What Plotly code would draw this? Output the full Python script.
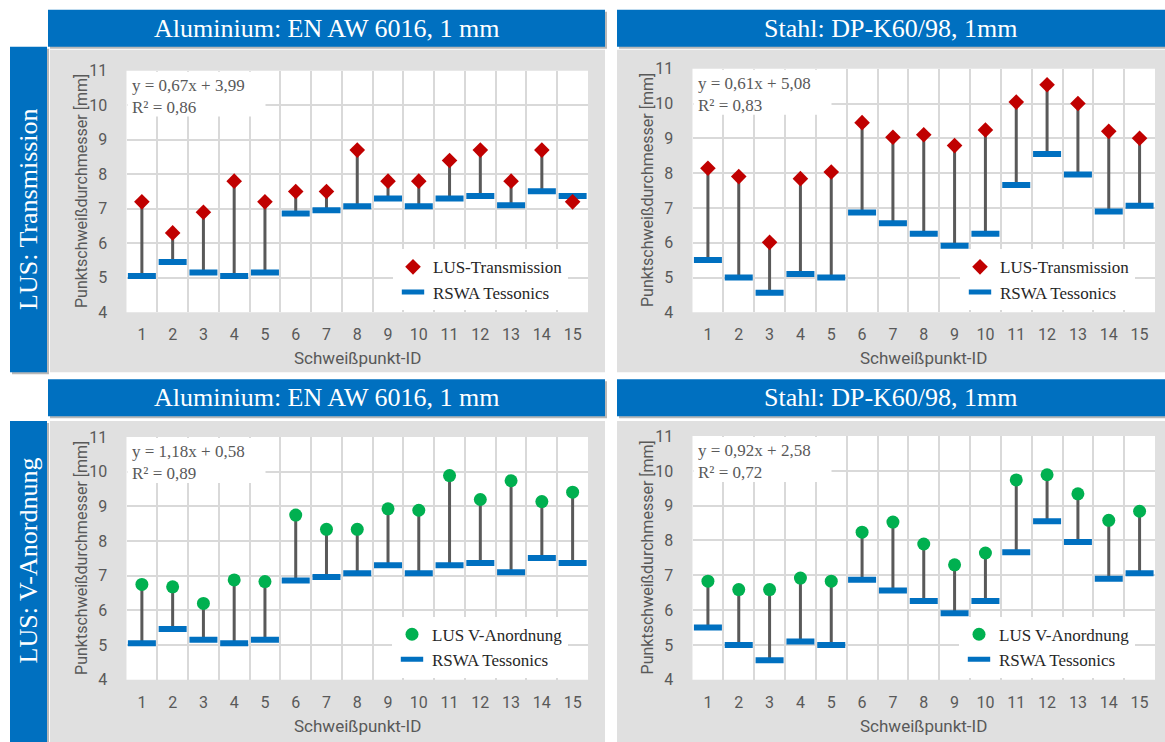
import plotly.graph_objects as go

W, H = 1165, 742

# ---------------- data ----------------
ids = [str(i) for i in range(1, 16)]

rswa_al = [5.05, 5.46, 5.15, 5.05, 5.15, 6.86, 6.96, 7.07, 7.30, 7.07, 7.30, 7.37, 7.10, 7.51, 7.37]
rswa_st = [5.50, 5.00, 4.56, 5.10, 5.00, 6.87, 6.56, 6.26, 5.91, 6.26, 7.66, 8.55, 7.96, 6.90, 7.06]

lus_trans_al = [7.20, 6.30, 6.90, 7.80, 7.20, 7.50, 7.50, 8.70, 7.80, 7.80, 8.40, 8.70, 7.80, 8.70, 7.20]
lus_trans_st = [8.14, 7.90, 6.01, 7.84, 8.03, 9.45, 9.03, 9.10, 8.79, 9.24, 10.04, 10.54, 10.00, 9.20, 9.00]
lus_v_al = [6.75, 6.68, 6.20, 6.88, 6.83, 8.75, 8.34, 8.34, 8.93, 8.89, 9.89, 9.20, 9.74, 9.14, 9.41]
lus_v_st = [6.83, 6.59, 6.59, 6.92, 6.83, 8.24, 8.53, 7.90, 7.30, 7.64, 9.74, 9.89, 9.34, 8.58, 8.84]

header_al = "Aluminium: EN AW 6016, 1 mm"
header_st = "Stahl: DP-K60/98, 1mm"
row_labels = ["LUS: Transmission", "LUS: V-Anordnung"]
eq_texts = [
    "y = 0,67x + 3,99<br>R² = 0,86",
    "y = 0,61x + 5,08<br>R² = 0,83",
    "y = 1,18x + 0,58<br>R² = 0,89",
    "y = 0,92x + 2,58<br>R² = 0,72",
]
name_trans = "LUS-Transmission"
name_v = "LUS V-Anordnung"
name_rswa = "RSWA Tessonics"
y_title = "Punktschweißdurchmesser [mm]"
x_title = "Schweißpunkt-ID"

# ---------------- styling ----------------
BLUE = "#0070C0"
RED = "#C00000"
GREEN = "#00B050"
STEM = "#595959"
PANEL = "#E0E0E0"
GRID = "#D9D9D9"
TXT = "#595959"
SANS = "Roboto, Arial, sans-serif"
SERIF = "Liberation Serif, Times New Roman, serif"

# vertical calibration of the rendered picture (observed: picture_y = OY + SY * page_y)
OY, SY = 9.2, 0.976


def px(x):
    return x / W


def py(y):
    return 1 - ((y - OY) / SY) / H


panels = [
    dict(x0=126.5, x1=588, yt=71, yb=313, lus=lus_trans_al, rswa=rswa_al, sym="diamond", col=RED, size=12, name=name_trans),
    dict(x0=692.5, x1=1155, yt=69, yb=313, lus=lus_trans_st, rswa=rswa_st, sym="diamond", col=RED, size=12, name=name_trans),
    dict(x0=126.5, x1=588, yt=438, yb=681, lus=lus_v_al, rswa=rswa_al, sym="circle", col=GREEN, size=13, name=name_v),
    dict(x0=692.5, x1=1155, yt=437, yb=681, lus=lus_v_st, rswa=rswa_st, sym="circle", col=GREEN, size=13, name=name_v),
]

fig = go.Figure()
shapes = []
annotations = []
layout_axes = {}


def rect(x0, x1, y0, y1, color, layer="below"):
    return dict(type="rect", xref="paper", yref="paper", x0=px(x0), x1=px(x1), y0=py(y1), y1=py(y0),
                fillcolor=color, line=dict(width=0), layer=layer)


for x0, x1, y0, y1 in [(50, 605, 50, 373), (617, 1165, 50, 373), (50, 605, 422, 760), (617, 1165, 422, 760)]:
    shapes.append(rect(x0, x1, y0, y1, PANEL))
for p in panels:
    shapes.append(rect(p["x0"], p["x1"], p["yt"], p["yb"], "white"))

blue_boxes = [
    (48, 605, 10, 47, header_al, 0),
    (617, 1165, 10, 47, header_st, 0),
    (48, 605, 380, 417, header_al, 0),
    (617, 1165, 380, 417, header_st, 0),
    (10, 47, 47, 373, row_labels[0], -90),
    (10, 47, 422, 760, row_labels[1], -90),
]
for x0, x1, y0, y1, t, ang in blue_boxes:
    shapes.append(rect(x0 + 2, min(x1 + 2, W), y0 + 2, y1 + 2, "#B8B8B8"))
    shapes.append(rect(x0, x1, y0, y1, BLUE))
    cy = (y0 + y1) / 2
    if ang == -90 and y1 > 742:
        cy = 562
    annotations.append(dict(text=t, xref="paper", yref="paper", x=px((x0 + x1) / 2), y=py(cy),
                            showarrow=False, textangle=ang, xanchor="center", yanchor="middle",
                            font=dict(family=SERIF, size=26, color="white")))

for i, p in enumerate(panels):
    k = "" if i == 0 else str(i + 1)
    xa, ya = "x" + k, "y" + k
    leg = "legend" if i == 0 else "legend" + str(i + 1)

    sx, sy = [], []
    for c, a, b in zip(ids, p["rswa"], p["lus"]):
        sx += [c, c, None]
        sy += [a, b, None]
    fig.add_trace(go.Scatter(x=sx, y=sy, mode="lines", line=dict(color=STEM, width=3),
                             xaxis=xa, yaxis=ya, showlegend=False, hoverinfo="skip"))
    fig.add_trace(go.Scatter(x=ids, y=p["rswa"], mode="markers", name=name_rswa,
                             marker=dict(symbol="line-ew", size=20, line=dict(color=BLUE, width=6)),
                             xaxis=xa, yaxis=ya, legend=leg, legendrank=2))
    fig.add_trace(go.Scatter(x=ids, y=p["lus"], mode="markers", name=p["name"],
                             marker=dict(symbol=p["sym"], size=p["size"], color=p["col"], line=dict(width=0)),
                             xaxis=xa, yaxis=ya, legend=leg, legendrank=1))

    layout_axes["xaxis" + k] = dict(type="category", domain=[px(p["x0"]), px(p["x1"])], anchor=ya,
                                    tickson="boundaries", showgrid=True, gridcolor=GRID, gridwidth=2,
                                    ticks="", ticklabelstandoff=11,
                                    tickfont=dict(family=SANS, size=16, color=TXT),
                                    showline=False, zeroline=False, range=[-0.5, 14.5], fixedrange=True)
    layout_axes["yaxis" + k] = dict(domain=[py(p["yb"]), py(p["yt"])], anchor=xa, range=[4, 11], dtick=1,
                                    tick0=4, showgrid=True, gridcolor=GRID, gridwidth=2,
                                    ticks="outside", ticklen=15, tickcolor="rgba(0,0,0,0)",
                                    tickfont=dict(family=SANS, size=16, color=TXT),
                                    showline=False, zeroline=False, fixedrange=True)

    shapes.append(rect(p["x0"] + 1, p["x0"] + 139, p["yt"] + 1, p["yt"] + 46, "white", layer="above"))
    annotations.append(dict(text=eq_texts[i], xref="paper", yref="paper", x=px(p["x0"] + 3), y=py(p["yt"] + 3),
                            xanchor="left", yanchor="top", align="left", showarrow=False,
                            font=dict(family=SERIF, size=17, color=TXT)))
    annotations.append(dict(text=y_title, xref="paper", yref="paper", x=px(p["x0"] - 45), y=py((p["yt"] + p["yb"]) / 2),
                            textangle=-90, showarrow=False, xanchor="center", yanchor="middle",
                            font=dict(family=SANS, size=16, color=TXT)))
    annotations.append(dict(text=x_title, xref="paper", yref="paper", x=px((p["x0"] + p["x1"]) / 2), y=py(p["yb"] + 46),
                            showarrow=False, xanchor="center", yanchor="middle",
                            font=dict(family=SANS, size=17, color=TXT)))

    layout_axes[leg] = dict(x=px(p["x1"] - 20), y=py(p["yb"] - 2), xanchor="right", yanchor="bottom",
                            bgcolor="white", borderwidth=0, font=dict(family=SERIF, size=17, color="#262626"),
                            itemwidth=30, tracegroupgap=0, traceorder="normal")

fig.update_layout(
    autosize=True, margin=dict(l=0, r=0, t=0, b=0),
    paper_bgcolor="white", plot_bgcolor="white",
    shapes=shapes, annotations=annotations, showlegend=True,
    **layout_axes,
)

fig.write_html(
    "out.html",
    config={"displayModeBar": False, "responsive": True},
    default_width="100vw",
    default_height="100vh",
    post_script=("document.documentElement.style.overflow='hidden';"
                 "document.body.style.margin='0';document.body.style.overflow='hidden';"
                 "Plotly.Plots.resize(document.getElementById('{plot_id}'));"),
)
